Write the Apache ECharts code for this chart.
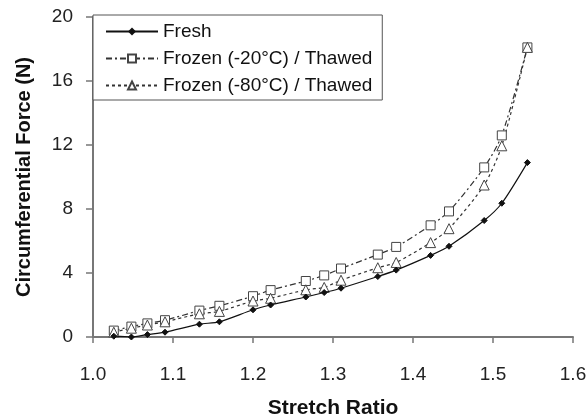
<!DOCTYPE html>
<html>
<head>
<meta charset="utf-8">
<script src="https://cdn.jsdelivr.net/npm/echarts@6/dist/echarts.min.js"></script>
<style>
html,body{margin:0;padding:0;background:#fff;}
#c{width:588px;height:418px;}
</style>
</head>
<body>
<div id="c"></div>
<script>
const stretch = [1.026, 1.048, 1.068, 1.09, 1.133, 1.158, 1.2, 1.222, 1.266, 1.289, 1.31, 1.356, 1.379, 1.422, 1.445, 1.489, 1.511, 1.543];
const fresh = [0.05, 0.0, 0.15, 0.3, 0.8, 0.95, 1.7, 2.0, 2.5, 2.78, 3.05, 3.78, 4.18, 5.1, 5.67, 7.28, 8.36, 10.9];
const frozen20 = [0.4, 0.65, 0.85, 1.05, 1.65, 1.95, 2.55, 2.93, 3.5, 3.85, 4.28, 5.15, 5.63, 6.98, 7.85, 10.6, 12.6, 18.1];
const frozen80 = [0.3, 0.55, 0.75, 0.95, 1.45, 1.6, 2.25, 2.42, 2.95, 3.1, 3.55, 4.33, 4.66, 5.9, 6.77, 9.5, 11.95, 18.1];
const seriesNames = ['Fresh', 'Frozen (-20°C) / Thawed', 'Frozen (-80°C) / Thawed'];
const xTicks = { min: 1.0, max: 1.6, interval: 0.1 };
const yTicks = { min: 0, max: 20, interval: 4 };

const pair = (ys) => stretch.map((x, i) => [x, ys[i]]);
const font = 'Liberation Sans, Arial, sans-serif';

const chart = echarts.init(document.getElementById('c'), null, { renderer: 'canvas' });
chart.setOption({
  animation: false,
  backgroundColor: '#fff',
  grid: { left: 93, right: 15, top: 17, bottom: 81, containLabel: false, outerBoundsMode: 'none' },
  legend: {
    left: 93, top: 15, orient: 'vertical',
    backgroundColor: '#fff',
    borderColor: '#555', borderWidth: 1,
    padding: [7, 10, 5, 12],
    itemWidth: 52, itemHeight: 10, itemGap: 8,
    textStyle: { fontFamily: font, fontSize: 19, color: '#111' },
    data: seriesNames
  },
  xAxis: {
    type: 'value', min: xTicks.min, max: xTicks.max, interval: xTicks.interval,
    name: 'Stretch Ratio', nameLocation: 'middle', nameGap: 61,
    nameTextStyle: { fontFamily: font, fontSize: 21, fontWeight: 'bold', color: '#111' },
    axisLine: { show: true, lineStyle: { color: '#777', width: 2 } },
    axisTick: { show: true, length: 6, inside: false, lineStyle: { color: '#777', width: 1.5 } },
    axisLabel: { fontFamily: font, fontSize: 19, color: '#222', margin: 28,
      formatter: v => v.toFixed(1) },
    splitLine: { show: false }
  },
  yAxis: {
    type: 'value', min: yTicks.min, max: yTicks.max, interval: yTicks.interval,
    name: 'Circumferential Force (N)', nameLocation: 'middle', nameGap: 59,
    nameTextStyle: { fontFamily: font, fontSize: 20, fontWeight: 'bold', color: '#111' },
    axisLine: { show: true, lineStyle: { color: '#777', width: 2 } },
    axisTick: { show: true, length: 7, inside: false, lineStyle: { color: '#777', width: 1.5 } },
    axisLabel: { fontFamily: font, fontSize: 19, color: '#222', margin: 20 },
    splitLine: { show: false }
  },
  series: [
    {
      name: seriesNames[0], type: 'line', data: pair(fresh), smooth: 0.25,
      symbol: 'diamond', symbolSize: 6,
      lineStyle: { color: '#111', width: 1.2, type: 'solid' },
      itemStyle: { color: '#111', borderColor: '#111' }, z: 3
    },
    {
      name: seriesNames[1], type: 'line', data: pair(frozen20), smooth: 0.25,
      symbol: 'rect', symbolSize: 9,
      lineStyle: { color: '#333', width: 1.2, type: [6, 3, 2, 3] },
      itemStyle: { color: '#fff', borderColor: '#444', borderWidth: 1 }, z: 2
    },
    {
      name: seriesNames[2], type: 'line', data: pair(frozen80), smooth: 0.25,
      symbol: 'triangle', symbolSize: 10,
      lineStyle: { color: '#333', width: 1.2, type: [3, 3] },
      itemStyle: { color: '#fff', borderColor: '#444', borderWidth: 1 }, z: 2
    }
  ]
});
</script>
</body>
</html>
